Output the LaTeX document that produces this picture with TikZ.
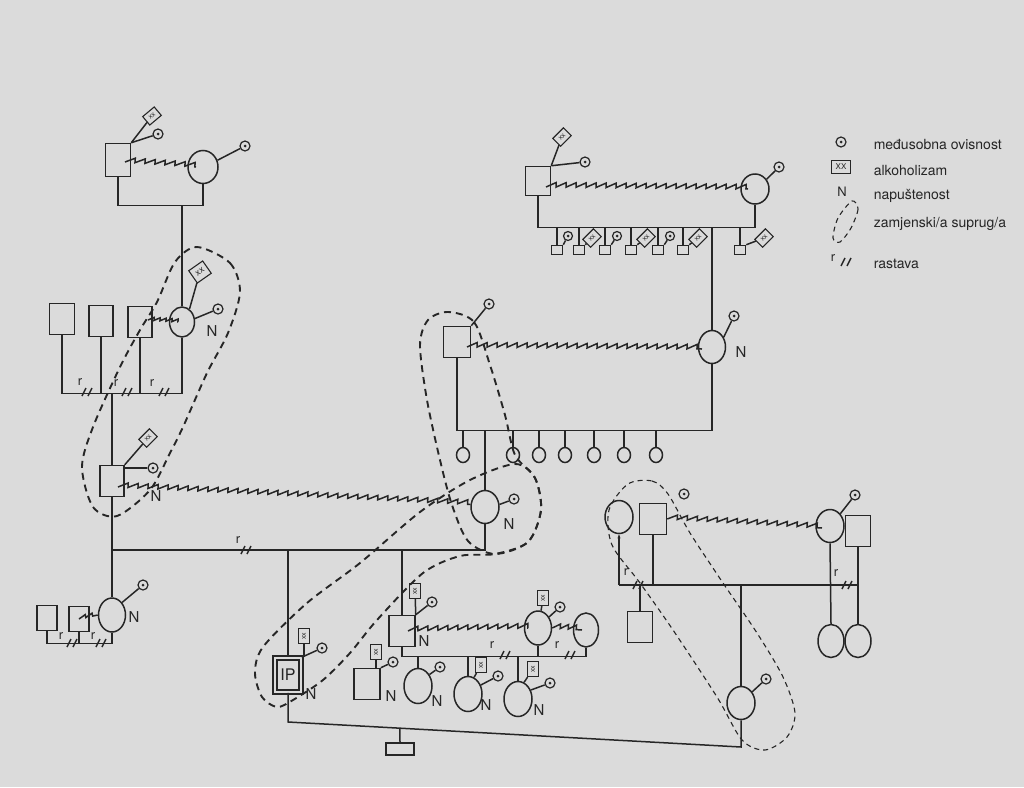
\documentclass[tikz,border=0pt]{standalone}
\usepackage{fontspec}
\setmainfont{TeX Gyre Heros}
\usepackage{tikz}
\usetikzlibrary{shapes.geometric,decorations.pathmorphing,calc,arrows.meta}

\begin{document}
\begin{tikzpicture}[x=1pt,y=-1pt,line width=1.5pt,color=black!85,
    male/.style={draw, rectangle, minimum width=25pt, minimum height=31pt, inner sep=0pt},
    female/.style={draw, ellipse, minimum width=28pt, minimum height=33pt, inner sep=0pt},
    kidm/.style={draw, rectangle, minimum width=11pt, minimum height=9pt, inner sep=0pt},
    kidf/.style={draw, ellipse, minimum width=13pt, minimum height=15pt, inner sep=0pt},
    dep/.style={draw, circle, minimum size=10pt, inner sep=0pt, line width=1.2pt,
      path picture={\fill (path picture bounding box.center) circle (1.5pt);}},
    alc/.style={draw, rectangle, minimum width=15pt, minimum height=11pt, inner sep=0.6pt,
      line width=1.1pt, font=\fontsize{7}{7}\selectfont},
    conflict/.style={decorate, decoration={saw, segment length=10pt, amplitude=4.5pt}},
    subst/.style={line width=1.9pt, dash pattern=on 7pt off 5pt},
    substthin/.style={line width=1.1pt, dash pattern=on 5pt off 4pt},
    lbl/.style={font=\fontsize{15}{15}\selectfont, inner sep=0pt},
    rlbl/.style={font=\fontsize{13}{13}\selectfont, inner sep=0pt},
    legtxt/.style={font=\fontsize{14}{14}\selectfont, anchor=west, inner sep=0pt},
    rsplit/.pic={\draw (-5,4) -- (-1,-4) (1,4) -- (5,-4);}
  ]
  \useasboundingbox (0,0) rectangle (1024,787);
  \fill[black!14] (0,0) rectangle (1024,787);

  % paternal grandparents
  \node[male, minimum height=33pt] (gpa) at (118,160) {};
  \node[female, minimum width=30pt] (gma) at (203,167) {};
  \node[alc, rotate=40] (gpa-x) at (152,116) {xx};
  \node[dep] (gpa-d) at (158,134) {};
  \node[dep] (gma-d) at (245,146) {};
  \draw (gpa.north east) -- (gpa-x);
  \draw (gpa.north east) -- (gpa-d);
  \draw (gma.25) -- (gma-d);
  \draw[conflict] ($(gpa.center)+(7,2)$) -- ($(gma.center)+(-7,0)$);
  \draw (gpa.south) -- ++(0,28) coordinate (gpbar) -| (gma.south);

  % grandmother and her husbands
  \node[female, minimum width=25pt, minimum height=30pt] (nana) at (182,322) {};
  \node[alc, rotate=35, minimum width=17pt, minimum height=15pt, font=\fontsize{9}{9}\selectfont] (nana-x) at (200,272) {xx};
  \node[dep] (nana-d) at (218,309) {};
  \node[lbl] (nana-n) at (212,331) {N};
  \node[male] (h1) at (62,319) {};
  \node[male, minimum width=24pt] (h2) at (101,321) {};
  \node[male, minimum width=24pt] (h3) at (140,322) {};
  \draw (nana.north |- gpbar) -- (nana.north);
  \draw (nana.60) -- (nana-x);
  \draw (nana.15) -- (nana-d);
  \draw[conflict, decoration={segment length=6pt, amplitude=3pt}] ($(h3.center)+(8,-2)$) -- ($(nana.center)+(-4,0)$);
  \draw (h1.south) -- ++(0,58) coordinate (nbar) -| (nana.south);
  \draw (h2.south) -- (h2.south |- nbar);
  \draw (h3.south) -- (h3.south |- nbar);
  \node[rlbl] (nr1) at (80,382) {r};
  \node[rlbl] (nr2) at (116,383) {r};
  \node[rlbl] (nr3) at (152,383) {r};
  \pic at (87,392) {rsplit};
  \pic at (127,392) {rsplit};
  \pic at (164,392) {rsplit};

  % father
  \node[male, minimum width=24pt] (dad) at (112,481) {};
  \node[alc, rotate=45] (dad-x) at (148,438) {xx};
  \node[dep] (dad-d) at (153,468) {};
  \node[lbl] (dad-n) at (156,496) {N};
  \draw (dad.north east) -- (dad-x);
  \draw (dad.east |- dad-d) -- (dad-d);
  \draw (dad.north |- nbar) -- (dad.north);

  % father's later wife
  \node[female, minimum width=27pt, minimum height=34pt] (dadw2) at (112,615) {};
  \node[male, minimum width=20pt, minimum height=25pt] (w2a) at (47,618) {};
  \node[male, minimum width=20pt, minimum height=25pt] (w2b) at (79,619) {};
  \node[dep] (dadw2-d) at (143,585) {};
  \node[lbl] (dadw2-n) at (134,617) {N};
  \draw (dadw2.north east) -- (dadw2-d);
  \draw[conflict, decoration={segment length=7pt, amplitude=3pt}] (w2b.center) -- (dadw2.west);
  \draw (w2a.south) -- ++(0,12) coordinate (wbar2) -| (dadw2.south);
  \draw (w2b.south) -- (w2b.south |- wbar2);
  \node[rlbl] (w2r1) at (61,636) {r};
  \node[rlbl] (w2r2) at (93,636) {r};
  \pic at (72,643) {rsplit};
  \pic at (101,643) {rsplit};

  % maternal great-grandparents
  \node[male, minimum height=29pt] (ggp) at (538,181) {};
  \node[female, minimum height=30pt] (ggm) at (755,189) {};
  \node[alc, rotate=45] (ggp-x) at (562,137) {xx};
  \node[dep] (ggp-d) at (585,162) {};
  \node[dep] (ggm-d) at (779,167) {};
  \draw (ggp.north east) -- (ggp-x);
  \draw (ggp.north east) -- (ggp-d);
  \draw (ggm.40) -- (ggm-d);
  \draw[conflict] ($(ggp.center)+(8,6)$) -- ($(ggm.center)+(-7,0)$);
  \draw (ggp.south) -- ++(0,31) coordinate (ggbar) -| (ggm.south);
  \foreach \i/\x in {1/557,2/579,3/605,4/631,5/658,6/683,7/740}{
    \node[kidm] (u\i) at (\x,250) {};
    \draw (u\i.north |- ggbar) -- (u\i.north);
  }
  \foreach \i/\x in {1/568,3/617,5/670}{
    \node[dep, minimum size=9pt] (u\i-d) at (\x,236) {};
    \draw (u\i.north east) -- (u\i-d);
  }
  \foreach \i/\x in {2/592,4/646,6/698,7/764}{
    \node[alc, rotate=45] (u\i-x) at (\x,238) {xx};
    \draw (u\i.north east) -- (u\i-x);
  }

  % maternal grandparents
  \node[male, minimum width=27pt] (gp2) at (457,342) {};
  \node[female, minimum width=27pt] (gm2) at (712,347) {};
  \node[dep] (gp2-d) at (489,304) {};
  \node[dep] (gm2-d) at (734,316) {};
  \node[lbl] (gm2-n) at (741,352) {N};
  \draw (gm2.north |- ggbar) -- (gm2.north);
  \draw (gp2.north east) -- (gp2-d);
  \draw (gm2.40) -- (gm2-d);
  \draw[conflict] ($(gp2.center)+(10,5)$) -- ($(gm2.center)+(-10,2)$);
  \draw (gp2.south) -- ++(0,72) coordinate (g2bar) -| (gm2.south);
  \foreach \i/\x in {1/463,2/513,3/539,4/565,5/594,6/624,7/656}{
    \node[kidf] (a\i) at (\x,455) {};
    \draw (a\i.north |- g2bar) -- (a\i.north);
  }

  % mother
  \node[female] (mom) at (485,507) {};
  \node[dep] (mom-d) at (514,499) {};
  \node[lbl] (mom-n) at (509,524) {N};
  \draw (mom.north |- g2bar) -- (mom.north);
  \draw (mom.10) -- (mom-d);
  \draw[conflict] ($(dad.center)+(6,6)$) -- (mom.170);

  % parents' children line
  \draw (dad.south) -- (dadw2.north);
  \coordinate (pbar) at (112,550);
  \draw (pbar) -| (mom.south);
  \node[rlbl] (pr) at (238,540) {r};
  \pic at (246,550) {rsplit};

  % identified patient
  \node[male, double=black!14, double distance=2.2pt, minimum width=26pt, minimum height=34pt,
    font=\fontsize{16}{16}\selectfont] (ip) at (288,675) {IP};
  \node[alc, rotate=90] (ip-x) at (304,636) {xx};
  \node[dep] (ip-d) at (322,648) {};
  \node[lbl] (ip-n) at (311,694) {N};
  \draw (ip.north |- pbar) -- (ip.north);
  \draw (ip.north -| ip-x) -- (ip-x);
  \draw (ip.north east) -- (ip-d);

  % brother and his family
  \node[male, minimum width=26pt] (bro) at (402,631) {};
  \node[alc, rotate=90] (bro-x) at (415,591) {xx};
  \node[dep] (bro-d) at (432,602) {};
  \node[lbl] (bro-n) at (424,641) {N};
  \draw (bro.north |- pbar) -- (bro.north);
  \draw (bro.north east) -- (bro-x);
  \draw (bro.north east) -- (bro-d);
  \node[female, minimum width=27pt, minimum height=34pt] (sil) at (538,628) {};
  \node[female, minimum width=25pt, minimum height=34pt] (sil2) at (586,630) {};
  \node[alc, rotate=90] (sil-x) at (543,598) {xx};
  \node[dep] (sil-d) at (560,607) {};
  \draw (sil.80) -- (sil-x);
  \draw (sil.45) -- (sil-d);
  \draw[conflict] ($(bro.center)+(6,0)$) -- ($(sil.center)+(-10,0)$);
  \draw[conflict, decoration={segment length=8pt}] (sil.east) -- ($(sil2.center)+(-4,0)$);
  \draw (bro.south) -- ++(0,9) coordinate (bbar) -| (sil2.south);
  \draw (sil.south) -- (sil.south |- bbar);
  \node[rlbl] (br1) at (492,645) {r};
  \node[rlbl] (br2) at (557,645) {r};
  \pic at (505,655) {rsplit};
  \pic at (570,655) {rsplit};
  \node[female, minimum height=35pt] (k1) at (418,686) {};
  \node[female, minimum height=35pt] (k2) at (468,694) {};
  \node[female, minimum height=35pt] (k3) at (518,699) {};
  \foreach \k in {k1,k2,k3}{
    \draw (\k.north |- bbar) -- (\k.north);
  }
  \node[dep] (k1-d) at (440,667) {};
  \node[lbl] (k1-n) at (437,701) {N};
  \draw (k1.45) -- (k1-d);
  \node[alc, rotate=90] (k2-x) at (481,665) {xx};
  \node[dep] (k2-d) at (498,676) {};
  \node[lbl] (k2-n) at (486,705) {N};
  \draw (k2.70) -- (k2-x);
  \draw (k2.35) -- (k2-d);
  \node[alc, rotate=90] (k3-x) at (533,669) {xx};
  \node[dep] (k3-d) at (550,683) {};
  \node[lbl] (k3-n) at (539,710) {N};
  \draw (k3.70) -- (k3-x);
  \draw (k3.35) -- (k3-d);
  \node[male, minimum width=26pt] (sib) at (367,684) {};
  \node[alc, rotate=90] (sib-x) at (376,652) {xx};
  \node[dep] (sib-d) at (393,662) {};
  \node[lbl] (sib-n) at (391,696) {N};
  \draw (sib.north -| sib-x) -- (sib-x);
  \draw (sib.north east) -- (sib-d);

  % partner's family
  \node[female] (wfx) at (619,517) {};
  \node[male, minimum width=27pt] (wf) at (653,519) {};
  \node[dep] (wf-d) at (684,494) {};
  \node[female] (wm) at (830,526) {};
  \node[dep] (wm-d) at (855,495) {};
  \node[male] (wmx) at (858,531) {};
  \draw (wm.50) -- (wm-d);
  \draw[conflict] (wf.east) -- ($(wm.center)+(-8,2)$);
  \coordinate (wbar) at (619,585);
  \draw[-{Stealth[length=4pt,width=3pt]}] (wfx.south |- wbar) -- (wfx.south);
  \draw (wfx.south |- wbar) -- (wmx.south |- wbar);
  \draw (wf.south) -- (wf.south |- wbar);
  \node[rlbl] (wr1) at (626,572) {r};
  \node[rlbl] (wr2) at (836,573) {r};
  \pic at (638,585) {rsplit};
  \pic at (847,585) {rsplit};
  \node[male] (wsib) at (640,627) {};
  \draw (wsib.north |- wbar) -- (wsib.north);
  \node[female, minimum width=26pt] (tw1) at (831,641) {};
  \node[female, minimum width=26pt] (tw2) at (858,641) {};
  \draw (wm.south) -- (tw1.north);
  \draw (wmx.south) -- (tw2.north);
  \node[female] (ipw) at (741,703) {};
  \node[dep] (ipw-d) at (766,679) {};
  \draw (ipw.45) -- (ipw-d);
  \draw (ipw.north |- wbar) -- (ipw.north);

  % IP's child
  \node[draw, rectangle, minimum width=28pt, minimum height=12pt, inner sep=0pt] (kid) at (400,749) {};
  \coordinate (ibar1) at (288,722);
  \coordinate (ibar2) at (741,747);
  \draw (ip.south) -- (ibar1) -- (ibar2) -- (ipw.south);
  \draw ($(ibar1)!0.247!(ibar2)$) -- (kid.north);

  % substitute partners
  \draw[subst] plot[smooth cycle] coordinates {(197,247) (230,263) (240,292) (228,333) (207,373)
    (183,427) (170,453) (150,490) (117,516) (93,507) (82,467) (93,427) (120,367) (140,330)
    (157,302) (175,262)};
  \draw[subst] plot[smooth cycle] coordinates {(448,312) (474,322) (490,365) (505,415) (515,455)
    (535,478) (541,510) (528,542) (495,554) (468,541) (452,505) (440,460) (427,400) (420,345)
    (428,320)};
  \draw[subst] plot[smooth cycle] coordinates {(263,647) (307,603) (360,563) (420,512) (470,480)
    (515,464) (535,478) (541,510) (528,542) (495,554) (460,556) (423,573) (377,620) (350,653)
    (323,680) (293,700) (277,707) (262,697) (255,673)};
  \draw[substthin] plot[smooth cycle] coordinates {(628,484) (652,481) (668,494) (690,533)
    (723,583) (757,633) (783,677) (795,713) (787,737) (765,750) (742,740) (717,697) (673,630)
    (640,583) (612,545) (609,510)};

  % legend
  \node[dep] (leg-d) at (841,142) {};
  \node[legtxt] (leg-dt) at (873,144) {međusobna ovisnost};
  \node[alc, minimum width=19pt, minimum height=13pt, font=\fontsize{8}{8}\selectfont] (leg-x) at (841,167) {XX};
  \node[legtxt] (leg-xt) at (873,170) {alkoholizam};
  \node[lbl, font=\fontsize{13}{13}\selectfont] (leg-n) at (842,192) {N};
  \node[legtxt] (leg-nt) at (873,196) {napuštenost};
  \draw[substthin] plot[smooth cycle] coordinates {(852,201) (858,209) (851,228) (840,242)
    (833,238) (838,218)};
  \node[legtxt] (leg-st) at (873,224) {zamjenski/a suprug/a};
  \node[rlbl] (leg-r) at (833,258) {r};
  \pic at (846,262) {rsplit};
  \node[legtxt] (leg-rt) at (873,264) {rastava};
\end{tikzpicture}
\end{document}
